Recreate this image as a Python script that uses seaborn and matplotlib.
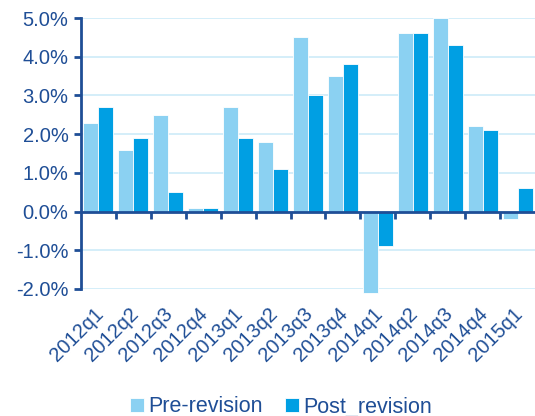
import matplotlib
matplotlib.use("Agg")
import matplotlib.pyplot as plt
import matplotlib.ticker as mticker
import matplotlib.transforms as mtransforms
import seaborn as sns
import pandas as pd

quarters = ["2012q1", "2012q2", "2012q3", "2012q4", "2013q1", "2013q2", "2013q3",
            "2013q4", "2014q1", "2014q2", "2014q3", "2014q4", "2015q1"]
pre_revision = [2.3, 1.6, 2.5, 0.1, 2.7, 1.8, 4.5, 3.5, -2.1, 4.6, 5.0, 2.2, -0.2]
post_revision = [2.7, 1.9, 0.5, 0.1, 1.9, 1.1, 3.0, 3.8, -0.9, 4.6, 4.3, 2.1, 0.6]
series_names = ["Pre-revision", "Post_revision"]
y_ticks = [-2, -1, 0, 1, 2, 3, 4, 5]

df = pd.DataFrame({
    "quarter": quarters * 2,
    "value": pre_revision + post_revision,
    "series": [series_names[0]] * len(quarters) + [series_names[1]] * len(quarters),
})

text_color = "#1F4E96"
grid_color = "#CDEBF8"
palette = {"Pre-revision": "#8BD1F2", "Post_revision": "#009FE3"}

sns.set_theme(style="white")
plt.rcParams["font.family"] = ["Liberation Sans", "DejaVu Sans"]

fig = plt.figure(figsize=(5.35, 4.16), dpi=100)
ax = fig.add_axes([0.1514, 0.3053, 0.8486, 0.6514])

sns.barplot(data=df, x="quarter", y="value", hue="series", palette=palette,
            width=0.86, gap=0.0, saturation=1, edgecolor="white", linewidth=0.6,
            ax=ax, legend=True)
for p in ax.patches:
    p.set_clip_on(False)

ax.set_xlim(-0.5, len(quarters) - 0.5)
ax.set_ylim(-2, 5)
ax.set_yticks(y_ticks)
ax.yaxis.set_major_formatter(mticker.FuncFormatter(lambda v, _: f"{v:.1f}%"))
ax.set_xlabel("")
ax.set_ylabel("")

ax.grid(axis="y", color=grid_color, linewidth=1.2)
ax.set_axisbelow(True)
for side in ["top", "right", "bottom"]:
    ax.spines[side].set_visible(False)
ax.spines["left"].set_color(text_color)
ax.spines["left"].set_linewidth(2)

ax.tick_params(axis="y", direction="out", length=5, width=2, color=text_color,
               labelcolor=text_color, labelsize=14.5, pad=4, left=True)
ax.tick_params(axis="x", length=0, labelcolor=text_color, labelsize=14.5, pad=11)
shift = mtransforms.ScaledTranslation(-5 / 100, 0, fig.dpi_scale_trans)
for lab in ax.get_xticklabels():
    lab.set_rotation(45)
    lab.set_ha("right")
    lab.set_rotation_mode("anchor")
    lab.set_transform(lab.get_transform() + shift)

# zero line with ticks between categories
ax.axhline(0, color=text_color, linewidth=2, zorder=4)
zero_axis = ax.secondary_xaxis(2 / 7)
zero_axis.set_xticks([i + 0.5 for i in range(len(quarters) - 1)])
zero_axis.set_xticklabels([])
zero_axis.spines["bottom"].set_visible(False)
zero_axis.tick_params(direction="out", length=5, width=2, color=text_color)

handles, labels = ax.get_legend_handles_labels()
ax.legend_.remove()
fig.legend(handles, labels, loc="lower center", bbox_to_anchor=(0.525, -0.05),
           ncol=2, frameon=False, fontsize=15.5, labelcolor=text_color,
           handlelength=0.65, handleheight=0.65, handletextpad=0.2,
           columnspacing=1.05)

fig.savefig("out.png", dpi=100)
